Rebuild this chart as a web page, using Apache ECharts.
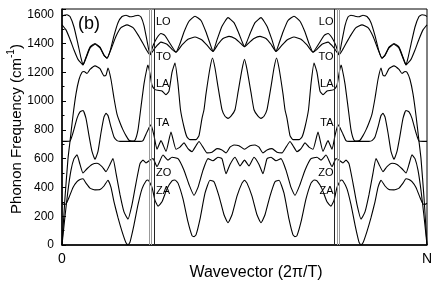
<!DOCTYPE html>
<html><head><meta charset="utf-8">
<script src="https://cdn.jsdelivr.net/npm/echarts@6/dist/echarts.min.js"></script>
<style>html,body{margin:0;padding:0;background:#fff}#c{width:436px;height:286px}</style>
</head><body><div id="c"></div>
<script>
// Wavevector in arbitrary units: 0 … 365 (= N), frequency in cm^-1
const LO = [[0,1588],[2,1597],[5,1600],[8,1588],[12,1515],[16,1395],[19,1300],[21,1252],[24,1305],[28,1375],[33,1400],[38,1375],[42,1320],[45,1298],[48,1345],[52,1455],[56,1545],[60,1588],[64,1597],[68,1586],[72,1590],[76,1597],[79,1585],[82,1525],[85,1420],[88,1322],[91,1385],[95,1440],[99,1470],[103,1455],[108,1400],[114,1340],[118,1400],[122,1480],[127,1555],[133,1590],[139,1560],[144,1480],[148,1400],[151,1345],[155,1425],[160,1520],[166,1580],[172,1545],[176,1485],[180,1415],[182.5,1378],[185,1415],[189,1485],[193,1545],[199,1580],[205,1520],[210,1425],[214,1345],[217,1400],[221,1480],[226,1560],[232,1590],[238,1555],[243,1480],[247,1400],[251,1340],[257,1400],[262,1455],[266,1470],[270,1440],[274,1385],[277,1322],[280,1420],[283,1525],[286,1585],[289,1597],[293,1590],[297,1586],[301,1597],[305,1588],[309,1545],[313,1455],[317,1345],[320,1298],[323,1320],[327,1375],[332,1400],[337,1375],[341,1305],[344,1252],[346,1300],[349,1395],[353,1515],[357,1588],[360,1600],[363,1597],[365,1588]];
const TO = [[0,1530],[4,1495],[8,1430],[12,1355],[16,1290],[21,1252],[24,1298],[28,1368],[33,1395],[38,1370],[42,1318],[45,1298],[49,1360],[54,1450],[59,1510],[65,1530],[71,1510],[76,1460],[81,1400],[85,1350],[88,1322],[93,1370],[99,1410],[105,1395],[110,1360],[114,1340],[120,1390],[126,1430],[133,1445],[140,1425],[146,1380],[151,1345],[156,1395],[161,1435],[167,1450],[173,1435],[178,1405],[182.5,1378],[187,1405],[192,1435],[198,1450],[204,1435],[209,1395],[214,1345],[219,1380],[225,1425],[232,1445],[239,1430],[245,1390],[251,1340],[255,1360],[260,1395],[266,1410],[272,1370],[277,1322],[280,1350],[284,1400],[289,1460],[294,1510],[300,1530],[306,1510],[311,1450],[316,1360],[320,1298],[323,1318],[327,1370],[332,1395],[337,1368],[341,1298],[344,1252],[349,1290],[353,1355],[357,1430],[361,1495],[365,1530]];
const LA = [[0,0],[3,330],[6,600],[8,720],[11,900],[14,1050],[17,1150],[20,1200],[22,1206],[25,1192],[28,1220],[33,1245],[38,1225],[42,1175],[44,1180],[46,1229],[49,1150],[52,1020],[55,910],[58,850],[61,800],[64,760],[67,728],[70,722],[73,728],[76,800],[79,960],[82,1120],[85,1230],[86,1250],[88,1190],[90,1110],[93,1080],[96,1075],[100,1070],[104,1045],[107,1070],[110,1200],[113,1264],[116,1120],[118.5,940],[122,820],[125,750],[128,732],[134,732],[137,760],[140,880],[142,940],[144,1050],[148,1230],[150.5,1300],[153,1230],[156,1100],[160,940],[163,895],[166,880],[169,895],[173,940],[176,1060],[180,1220],[182.5,1290],[185,1220],[189,1060],[192,940],[196,895],[199,880],[202,895],[205,940],[209,1100],[212,1230],[214.5,1300],[217,1230],[221,1050],[223,940],[225,880],[228,760],[231,732],[237,732],[240,750],[243,820],[246.5,940],[249,1120],[252,1264],[255,1200],[258,1070],[261,1045],[265,1070],[269,1075],[272,1080],[275,1110],[277,1190],[279,1250],[280,1230],[283,1120],[286,960],[289,800],[292,728],[295,722],[298,728],[301,760],[304,800],[307,850],[310,910],[313,1020],[316,1150],[319,1229],[321,1180],[323,1175],[327,1225],[332,1245],[337,1220],[340,1192],[343,1206],[345,1200],[348,1150],[351,1050],[354,900],[357,720],[359,600],[362,330],[365,0]];
const TA = [[0,720],[4,720],[8,722],[11,780],[15,880],[18,925],[21,935],[24,880],[27,760],[30,650],[33,595],[36,650],[39,780],[42,890],[44,915],[46,900],[49,820],[52,750],[55,725],[58,720],[78,720],[81,725],[84,770],[87,815],[89,835],[92,760],[95,665],[99,725],[104,650],[109,785],[114,665],[118,680],[122,710],[126,670],[130,649],[134,690],[137,719],[141,680],[145,640],[150,645],[155,670],[160,660],[164,640],[168,680],[172,695],[177,690],[182.5,665],[188,690],[193,695],[197,680],[201,640],[205,660],[210,670],[215,645],[220,640],[224,680],[228,719],[231,690],[235,649],[239,670],[243,710],[247,680],[251,665],[256,785],[261,650],[266,725],[270,665],[273,760],[276,835],[278,815],[281,770],[284,725],[287,720],[307,720],[310,725],[313,750],[316,820],[319,900],[321,915],[323,890],[326,780],[329,650],[332,595],[335,650],[338,760],[341,880],[344,935],[347,925],[350,880],[354,780],[357,722],[361,720],[365,720]];
const ZO = [[0,0],[3,200],[6,380],[9,520],[12,600],[15,626],[18,560],[21,500],[25,530],[30,560],[35,568],[40,545],[44,510],[48,560],[51,600],[54,500],[58,350],[62,230],[66,180],[70,280],[74,430],[78,565],[81,590],[84,570],[88,590],[91,600],[95,545],[101,625],[106,590],[110,610],[116,600],[122,520],[127,420],[132,345],[136,400],[141,520],[146,600],[151,585],[156,610],[160,600],[164,495],[168,560],[173,610],[178,550],[182.5,590],[187,550],[192,610],[197,560],[201,495],[205,600],[209,610],[214,585],[219,600],[224,520],[229,400],[233,345],[238,420],[243,520],[249,600],[255,610],[259,590],[264,625],[270,545],[274,600],[277,590],[281,570],[284,590],[287,565],[291,430],[295,280],[299,180],[303,230],[307,350],[311,500],[314,600],[317,560],[321,510],[325,545],[330,568],[335,560],[340,530],[344,500],[347,560],[350,626],[353,600],[356,520],[359,380],[362,200],[365,0]];
const ZA = [[0,290],[2,282],[4,285],[7,330],[11,400],[15,440],[18,455],[21,460],[24,430],[28,395],[33,383],[38,385],[42,410],[46,450],[49,400],[52,300],[56,190],[60,95],[64,15],[66,0],[68,20],[72,140],[76,280],[80,390],[84,445],[86,452],[90,400],[93,310],[96,270],[100,300],[105,390],[110,445],[113,452],[116,430],[121,320],[126,160],[130,65],[132,58],[134,70],[138,180],[143,360],[148,450],[152,440],[157,340],[162,210],[166,155],[170,210],[175,340],[180,430],[182.5,450],[185,430],[190,340],[195,210],[199,155],[203,210],[208,340],[213,440],[217,450],[222,360],[227,180],[231,70],[233,58],[235,65],[239,160],[244,320],[249,430],[252,452],[255,445],[260,390],[265,300],[269,270],[272,310],[275,400],[279,452],[281,445],[285,390],[289,280],[293,140],[297,20],[299,0],[301,15],[305,95],[309,190],[313,300],[316,400],[319,450],[323,410],[327,385],[332,383],[337,395],[341,430],[344,460],[347,455],[350,440],[354,400],[358,330],[361,285],[363,282],[365,290]];
const branchNames = ['LO','TO','LA','TA','ZO','ZA'];
const grayLines = [87.5, 89.5, 275.5, 277.5];
const blackLines = [92.5, 272.5];
const yTicks = [0,200,400,600,800,1000,1200,1400,1600];
const yMax = 1640;
const xTickLabels = ['0','N'];

const FONT = '"Liberation Sans", Arial, Helvetica, sans-serif';
const chart = echarts.init(document.getElementById('c'), null, {renderer:'canvas'});
const series = [];
[LO,TO,LA,TA,ZO,ZA].forEach((d,i) => series.push({
  type:'line', name:branchNames[i], data:d, symbol:'none', showSymbol:false,
  smooth:0.15, silent:true, z:2, lineStyle:{color:'#000', width:1.1}
}));
series.push({
  type:'line', data:[], silent:true,
  markLine:{silent:true, symbol:'none', label:{show:false}, animation:false,
    data:[...grayLines.map(v=>({xAxis:v, lineStyle:{color:'#999', width:1, type:'solid'}})),
          ...blackLines.map(v=>({xAxis:v, lineStyle:{color:'#222', width:1, type:'solid'}}))]}
});
const labelY = [21.5, 56.5, 83.5, 123, 173, 191];
const graphics = [];
branchNames.forEach((n,i)=>{
  graphics.push({type:'text', x:156, y:labelY[i], silent:true,
    style:{text:n, font:'11px '+FONT, fill:'#000', textAlign:'left', textVerticalAlign:'middle', align:'left', verticalAlign:'middle'}});
  graphics.push({type:'text', x:333.5, y:labelY[i], silent:true,
    style:{text:n, font:'11px '+FONT, fill:'#000', textAlign:'right', textVerticalAlign:'middle', align:'right', verticalAlign:'middle'}});
});
graphics.push({type:'text', x:78, y:24, silent:true,
  style:{text:'(b)', font:'18px '+FONT, fill:'#000', textAlign:'left', textVerticalAlign:'middle', align:'left', verticalAlign:'middle'}});
graphics.push({type:'text', x:256, y:273, silent:true,
  style:{text:'Wavevector (2π/T)', font:'16px '+FONT, fill:'#000', textAlign:'center', textVerticalAlign:'middle', align:'center', verticalAlign:'middle'}});
graphics.push({type:'text', x:15, y:129, rotation:Math.PI/2, silent:true,
  style:{text:'{a|Phonon Frequency (cm}{s|-1}{a|)}', fill:'#000', textAlign:'center', textVerticalAlign:'middle', align:'center', verticalAlign:'middle',
    rich:{a:{fontSize:15, fontFamily:FONT, fill:'#000', lineHeight:18, verticalAlign:'bottom'}, s:{fontSize:10, fontFamily:FONT, fill:'#000', verticalAlign:'top', lineHeight:18}}}});

chart.setOption({
  animation:false,
  grid:{left:62, right:9, top:9, bottom:41, show:true, borderColor:'#000', borderWidth:1},
  xAxis:{type:'value', min:0, max:365, interval:365,
    axisLine:{show:true, onZero:false, lineStyle:{color:'#000', width:1.5}},
    axisTick:{show:false}, splitLine:{show:false},
    axisLabel:{color:'#000', fontSize:14, fontFamily:FONT, margin:7,
      formatter:v => v===0 ? xTickLabels[0] : (v===365 ? xTickLabels[1] : '')}},
  yAxis:{type:'value', min:0, max:yMax, interval:200,
    axisLine:{show:true, lineStyle:{color:'#000', width:1.5}},
    axisTick:{show:true, inside:true, length:4, lineStyle:{color:'#000'}},
    minorTick:{show:true, splitNumber:2, length:2.5, lineStyle:{color:'#000'}},
    splitLine:{show:false},
    axisLabel:{color:'#000', fontSize:12, fontFamily:FONT, margin:8,
      formatter:v => yTicks.includes(v) ? String(v) : ''}},
  graphic:graphics,
  series:series
});
</script></body></html>
